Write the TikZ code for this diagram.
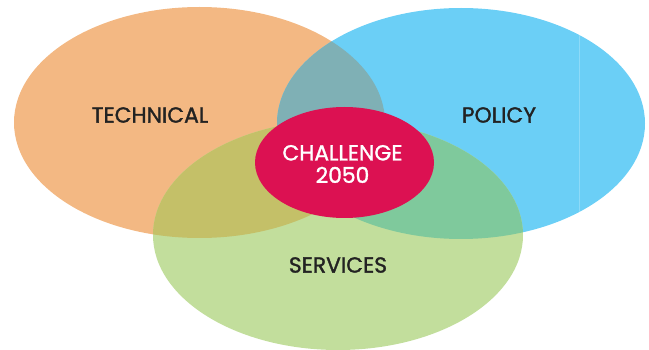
\documentclass[tikz,border=0pt]{standalone}
\usepackage{fontspec}
\usetikzlibrary{shapes.geometric}
\setmainfont{Poppins}[BoldFont={Poppins},BoldFeatures={FakeBold=1.4}]
\definecolor{corange}{HTML}{F3B883}
\definecolor{cblue}{HTML}{6BCFF6}
\definecolor{cgreen}{HTML}{C2DE9C}
\definecolor{ccrimson}{HTML}{DC1152}
\definecolor{cteal}{HTML}{7FB0B5}
\definecolor{colive}{HTML}{C4C068}
\definecolor{cseagreen}{HTML}{7FC99C}
\definecolor{ctext}{HTML}{222222}
\definecolor{cline}{HTML}{8DDAF8}
\tikzset{
  lbl/.style={font=\fontsize{21.8}{22}\selectfont\bfseries, text=ctext, inner sep=0pt},
  clbl/.style={font=\fontsize{21.8}{22.5}\selectfont\bfseries, text=white, align=center, inner sep=0pt}
}
\begin{document}
\begin{tikzpicture}[x=1pt,y=-1pt]
\useasboundingbox (0,0) rectangle (649,350);
\def\orangeE{(199.5,122.5) ellipse [x radius=185.5, y radius=115.5]}
\def\blueE{(461,123.5) ellipse [x radius=184, y radius=115.5]}
\def\greenE{(338,235) ellipse [x radius=185, y radius=115]}
\fill[corange] \orangeE;
\fill[cblue] \blueE;
\fill[cgreen] \greenE;
\draw[cline, line width=0.6pt] (579,35) -- (579,212);
\begin{scope}
  \clip \orangeE;
  \fill[cteal] \blueE;
\end{scope}
\begin{scope}
  \clip \orangeE;
  \fill[colive] \greenE;
\end{scope}
\begin{scope}
  \clip \blueE;
  \fill[cseagreen] \greenE;
\end{scope}
\node[ellipse, fill=ccrimson, minimum width=179pt, minimum height=111pt, inner sep=0pt] (center) at (344.5,162.5) {};
\node[lbl] (tech) at (150,115) {TECHNICAL};
\node[lbl] (pol) at (499,115) {POLICY};
\node[lbl] (serv) at (338,265) {SERVICES};
\node[clbl] (chal) at (342.5,164) {CHALLENGE\\2050};
\end{tikzpicture}
\end{document}
